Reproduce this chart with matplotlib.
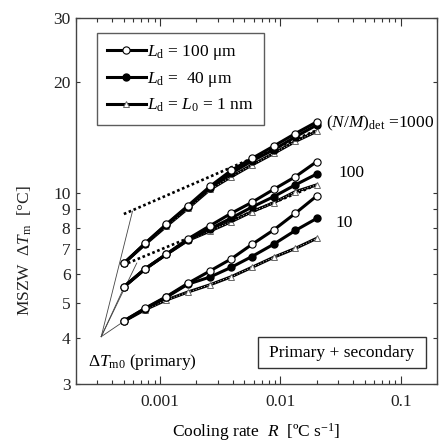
import matplotlib
matplotlib.use("Agg")
import matplotlib.pyplot as plt
from matplotlib.patches import Rectangle
from matplotlib.ticker import FixedLocator, NullFormatter, LogLocator

plt.rcParams['font.family'] = ['Liberation Serif', 'DejaVu Serif']
plt.rcParams['mathtext.fontset'] = 'custom'
plt.rcParams['mathtext.rm'] = 'Liberation Serif'
plt.rcParams['mathtext.it'] = 'Liberation Serif:italic'
plt.rcParams['font.size'] = 12.5

# cooling rate R [degC/s]
rate = [0.0005, 0.00075, 0.00113, 0.0017, 0.0026, 0.0039, 0.0058, 0.0088, 0.0133, 0.02]

# MSZW for (N/M)det = 1000, 100, 10 ; Ld = 100 um / 40 um / 1 nm
g1000_open = [6.41, 7.27, 8.2, 9.2, 10.4, 11.5, 12.4, 13.4, 14.5, 15.6]
g1000_fill = [6.41, 7.25, 8.18, 9.15, 10.3, 11.3, 12.2, 13.1, 14.2, 15.3]
g1000_tri = [6.41, 7.22, 8.1, 9.05, 10.2, 11.05, 11.9, 12.8, 13.8, 14.7]

g100_open = [5.53, 6.19, 6.79, 7.47, 8.12, 8.78, 9.41, 10.21, 11.05, 12.15]
g100_fill = [5.53, 6.19, 6.79, 7.42, 7.96, 8.52, 9.13, 9.75, 10.5, 11.24]
g100_tri = [5.52, 6.18, 6.78, 7.4, 7.85, 8.33, 8.87, 9.39, 10.06, 10.5]

g10_open = [4.46, 4.83, 5.2, 5.65, 6.11, 6.59, 7.22, 7.91, 8.78, 9.79]
g10_fill = [4.46, 4.82, 5.18, 5.62, 5.88, 6.25, 6.69, 7.23, 7.88, 8.5]
g10_tri = [4.45, 4.79, 5.09, 5.35, 5.6, 5.89, 6.25, 6.66, 7.04, 7.5]

# primary-only lines (dotted)
prim1000_x = [0.0005, 0.02]
prim1000_y = [8.74, 14.8]
prim100_x = [0.00054, 0.0017, 0.02]
prim100_y = [6.42, 7.5, 10.5]

# leader lines from the "dTm0 (primary)" label
lead_from = (0.000324, 4.04)
lead_to_x = [0.00059, 0.00064, 0.0005, 0.0005]
lead_to_y = [8.9, 6.42, 5.5, 4.45]

fig = plt.figure(figsize=(4.4, 4.43), dpi=100)
ax = fig.add_axes([0.1727, 0.1332, 0.8205, 0.8262])

lw = 2.2
for xs, ys in [(prim1000_x, prim1000_y), (prim100_x, prim100_y)]:
    ax.plot(xs, ys, color='black', lw=1.9, ls=(0, (1, 1)), zorder=2)

for tx, ty in zip(lead_to_x, lead_to_y):
    ax.plot([lead_from[0], tx], [lead_from[1], ty], color='#444444', lw=0.6, zorder=1)

handles = []
for grp in [(g1000_tri, g1000_fill, g1000_open), (g100_tri, g100_fill, g100_open),
            (g10_tri, g10_fill, g10_open)]:
    tri, fill, opn = grp
    h3, = ax.plot(rate, tri, color='black', lw=lw, marker='^', ms=4.5, mfc='white',
                  mec='#666666', mew=0.7, zorder=3)
    ax.plot(rate, tri, color='white', lw=0.6, ls=(0, (1, 2.5)), zorder=3.1)
    h2, = ax.plot(rate, fill, color='black', lw=lw, marker='o', ms=5, mfc='black',
                  mec='black', zorder=4)
    h1, = ax.plot(rate, opn, color='black', lw=lw, marker='o', ms=5.2, mfc='white',
                  mec='black', mew=0.8, zorder=5)
    handles = [h1, h2, h3]

ax.set_xscale('log')
ax.set_yscale('log')
ax.set_xlim(2e-4, 0.2)
ax.set_ylim(3, 30)

ax.xaxis.set_major_locator(FixedLocator([0.001, 0.01, 0.1]))
ax.set_xticklabels(['0.001', '0.01', '0.1'])
ax.xaxis.set_minor_locator(LogLocator(base=10, subs=range(2, 10)))
ax.xaxis.set_minor_formatter(NullFormatter())

yt = [3, 4, 5, 6, 7, 8, 9, 10, 20, 30]
ax.yaxis.set_major_locator(FixedLocator(yt))
ax.set_yticklabels([str(v) for v in yt])
ax.yaxis.set_minor_locator(FixedLocator([]))

ax.tick_params(which='both', direction='in', top=True, right=True, colors='#333333',
               labelcolor='#222222', width=0.8)
ax.tick_params(axis='x', which='major', length=6, pad=7)
ax.tick_params(axis='x', which='minor', length=3)
ax.tick_params(axis='y', which='major', length=3, pad=4)
for sp in ax.spines.values():
    sp.set_color('#444444')
    sp.set_linewidth(1.0)

ax.set_xlabel(r'Cooling rate  $R$  [ºC s$^{-1}$]', labelpad=8)
fig.text(25 / 440, 1 - 250 / 443, r'MSZW  $\Delta T_{\rm m}$  [°C]', rotation=90,
         ha='center', va='center', color='#222222')

leg = ax.legend(handles, [r'$L_{\rm d}$ = 100 μm', r'$L_{\rm d}$ =  40 μm',
                          r'$L_{\rm d}$ = $L_0$ = 1 nm'],
                loc='upper left', bbox_to_anchor=(0.058, 0.959), borderaxespad=0,
                frameon=True, fancybox=False, edgecolor='#333333', handlelength=2.2,
                handletextpad=0.1, labelspacing=0.45, borderpad=0.6, fontsize=12.5)
leg.get_frame().set_linewidth(1.0)

ax.text(0.024, 15.5, r'$(N/M)_{\rm det}$ =1000', ha='left', va='center', clip_on=False)
ax.text(0.0301, 11.3, '100', ha='left', va='center')
ax.text(0.0289, 8.26, '10', ha='left', va='center')
ax.text(0.000251, 3.45, r'$\Delta T_{\rm m0}$ (primary)', ha='left', va='center')

# "Primary + secondary" box
ax.add_patch(Rectangle((0.504, 0.0437), 0.4655, 0.0847, transform=ax.transAxes,
                       fc='white', ec='#333333', lw=1.0, zorder=6))
ax.text(0.7365, 0.086, 'Primary + secondary', transform=ax.transAxes,
        ha='center', va='center', zorder=7)

fig.savefig('out.png', dpi=100)
